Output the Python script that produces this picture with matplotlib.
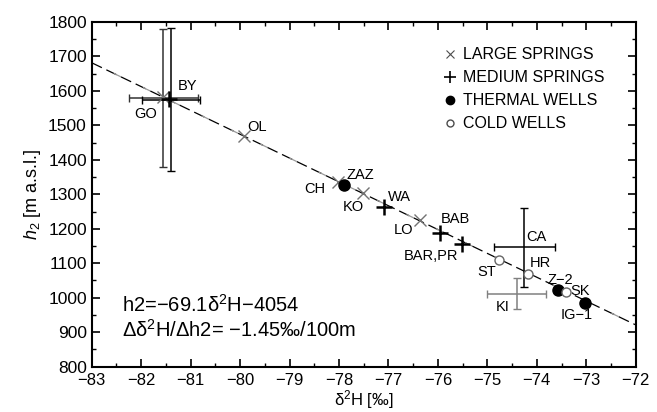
import numpy as np
import matplotlib
matplotlib.use("Agg")
import matplotlib.pyplot as plt
from matplotlib.lines import Line2D

plt.rcParams["font.family"] = ["Liberation Sans", "DejaVu Sans"]
plt.rcParams["mathtext.fontset"] = "custom"
plt.rcParams["mathtext.rm"] = "Liberation Sans"
plt.rcParams["mathtext.it"] = "Liberation Sans:italic"

# deuterium vs recharge altitude
large_names = ["GO", "OL", "CH", "KO", "LO"]
large_x = [-81.56, -79.93, -78.01, -77.52, -76.36]
large_y = [1582, 1469, 1336, 1304, 1225]

medium_names = ["BY", "WA", "BAB", "BAR,PR"]
medium_x = [-81.43, -77.09, -75.96, -75.51]
medium_y = [1575, 1264, 1187, 1155]

thermal_names = ["ZAZ", "Z-2", "IG-1"]
thermal_x = [-77.90, -73.58, -73.02]
thermal_y = [1327, 1022, 984]

cold_names = ["ST", "HR", "SK"]
cold_x = [-74.76, -74.17, -73.41]
cold_y = [1109, 1068, 1017]

# error bars
err_names = ["GO", "BY", "CA", "KI"]
err_x = [-81.55, -81.40, -74.25, -74.41]
err_y = [1580, 1574, 1146, 1012]
err_dx = [0.70, 0.59, 0.61, 0.60]
err_dy = [200, 207, 114, 46]
err_col = ["0.2", "black", "black", "0.5"]

# regression h2 = -69.1 d2H - 4054
slope = -69.1
intercept = -4054

fig = plt.figure(figsize=(6.57, 4.12), dpi=100)
ax = fig.add_axes([0.1396, 0.110, 0.828, 0.837])

xx = np.array([-83, -72])
ax.plot(xx, slope * xx + intercept, color="black", lw=0.9, ls=(0, (9, 4)), zorder=1)
ax.plot(xx, slope * xx + intercept, color="0.6", lw=0.9, ls=(6.5, (6.5, 19.5)), zorder=1)

for i in range(len(err_names)):
    ax.errorbar(err_x[i], err_y[i], xerr=err_dx[i], yerr=err_dy[i], fmt="none",
                ecolor=err_col[i], elinewidth=1.1, capsize=3, capthick=1.0, zorder=2)

ax.plot(large_x, large_y, ls="none", marker="x", ms=8, mew=1.0, color="0.45", zorder=3)
ax.plot(medium_x, medium_y, ls="none", marker="+", ms=11, mew=1.8, color="black", zorder=3)
ax.plot(thermal_x, thermal_y, ls="none", marker="o", ms=8, color="black", zorder=4)
ax.plot(cold_x, cold_y, ls="none", marker="o", ms=6.5, mfc="white", mec="0.4", mew=1.0, zorder=4)

# point labels
labels = [("GO", -81.92, 1532), ("BY", -81.07, 1614), ("OL", -79.66, 1496),
          ("CH", -78.48, 1314), ("ZAZ", -77.57, 1356), ("KO", -77.71, 1264),
          ("WA", -76.77, 1291), ("LO", -76.70, 1196), ("BAB", -75.65, 1227),
          ("BAR,PR", -76.14, 1121), ("ST", -75.01, 1075), ("CA", -74.01, 1175),
          ("HR", -73.93, 1100), ("Z\u22122", -73.53, 1051), ("SK", -73.13, 1019),
          ("KI", -74.68, 972), ("IG\u22121", -73.19, 950)]
for t, lx, ly in labels:
    ax.text(lx, ly, t, fontsize=10.5, ha="center", va="center", zorder=5)

ax.text(-82.39, 979, "h2=\u221269.1\u03b4$^2$H\u22124054", fontsize=14.5, va="center")
ax.text(-82.39, 906, "\u0394\u03b4$^2$H/\u0394h2= \u22121.45\u2030/100m", fontsize=14.5, va="center")

handles = [
    Line2D([], [], ls="none", marker="x", ms=6, mew=0.8, color="0.3"),
    Line2D([], [], ls="none", marker="+", ms=9, mew=1.2, color="black"),
    Line2D([], [], ls="none", marker="o", ms=6, color="black"),
    Line2D([], [], ls="none", marker="o", ms=5, mfc="white", mec="0.3"),
]
ax.legend(handles, ["LARGE SPRINGS", "MEDIUM SPRINGS", "THERMAL WELLS", "COLD WELLS"],
          loc="upper left", bbox_to_anchor=(0.635, 0.945), frameon=False,
          fontsize=11.5, handlelength=0.8, handletextpad=0.4, labelspacing=0.5,
          borderaxespad=0)

ax.set_xlim(-83, -72)
ax.set_ylim(800, 1800)
ax.set_xticks(np.arange(-83, -71, 1))
ax.set_yticks(np.arange(800, 1801, 100))
ax.set_xticks(np.arange(-82.5, -72, 1), minor=True)
ax.set_yticks(np.arange(850, 1800, 100), minor=True)
ax.tick_params(which="both", direction="in", top=True, right=True)
ax.tick_params(axis="x", pad=4.5, labelsize=12)
ax.tick_params(axis="y", labelsize=12.5)
ax.tick_params(which="major", length=6, width=1.2)
ax.tick_params(which="minor", length=3, width=1.0)
for s in ax.spines.values():
    s.set_linewidth(1.5)

ax.set_xlabel("\u03b4$^2$H [\u2030]", fontsize=12, labelpad=0)
ax.set_ylabel("$h_2$ [m a.s.l.]", fontsize=13, labelpad=4)

fig.savefig("out.png", dpi=100)
